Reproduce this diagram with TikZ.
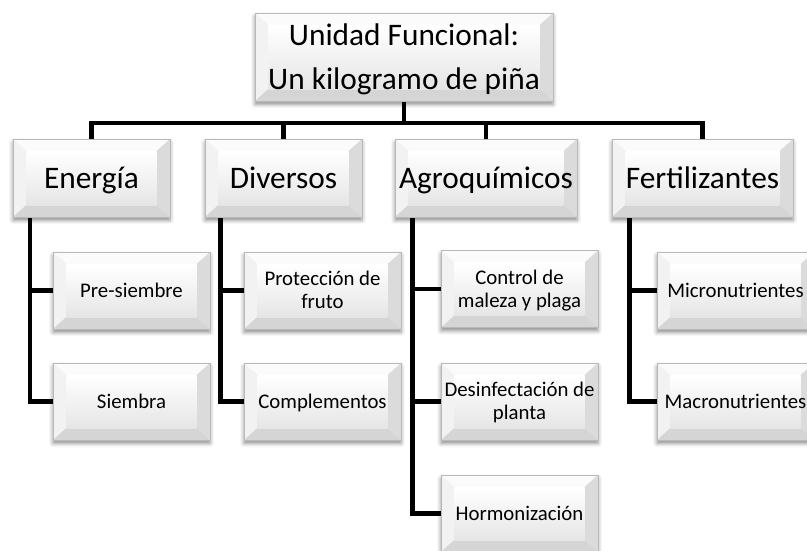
\documentclass[tikz,border=0pt]{standalone}
\usepackage{fontspec}
\setmainfont{Carlito}
\usetikzlibrary{shadows.blur,backgrounds}
\newcommand\capline[1]{\rule[-0.1em]{0pt}{0.844em}\smash{#1}}
\tikzset{
  bevel/.style={
    draw=gray!55, line width=0.5pt, fill=gray!12, align=center, inner sep=0pt,
    blur shadow={shadow xshift=0pt, shadow yshift=-2.5pt, shadow opacity=45, shadow blur radius=3pt},
    path picture={
      \coordinate (pnw) at (path picture bounding box.north west);
      \coordinate (pne) at (path picture bounding box.north east);
      \coordinate (psw) at (path picture bounding box.south west);
      \coordinate (pse) at (path picture bounding box.south east);
      \coordinate (inw) at ([xshift=10pt,yshift=-9pt]pnw);
      \coordinate (ine) at ([xshift=-10pt,yshift=-9pt]pne);
      \coordinate (isw) at ([xshift=10pt,yshift=9pt]psw);
      \coordinate (ise) at ([xshift=-10pt,yshift=9pt]pse);
      \fill[gray!3] (pnw) -- (pne) -- (ine) -- (inw) -- cycle;
      \fill[gray!10] (pnw) -- (inw) -- (isw) -- (psw) -- cycle;
      \fill[gray!28] (pne) -- (ine) -- (ise) -- (pse) -- cycle;
      \fill[gray!33] (psw) -- (isw) -- (ise) -- (pse) -- cycle;
      \shade[top color=white, bottom color=gray!20] (inw) rectangle (ise);
    }},
  topbox/.style={bevel, minimum width=223.5pt, minimum height=66pt,
    font=\fontsize{23.5}{33}\selectfont},
  lvlone/.style={bevel, minimum height=58.5pt,
    font=\fontsize{23.5}{28}\selectfont},
  leaf/.style={bevel, minimum width=117.75pt, minimum height=57.75pt,
    font=\fontsize{15.6}{17.5}\selectfont},
  conn/.style={line width=3.3pt, black}
}
\begin{document}
\begin{tikzpicture}[x=0.75pt,y=-0.75pt]
\useasboundingbox (0,0) rectangle (807,550);
\clip (0,0) rectangle (807,550);

\coordinate (bus) at (0,123);

\node[topbox] (top) at (404,57) {\capline{Unidad Funcional:}\\\capline{Un kilogramo de piña}};

\node[lvlone, minimum width=117.75pt] (e) at (91.5,178) {\capline{Energía}};
\node[lvlone, minimum width=117.75pt] (d) at (283.5,178) {\capline{Diversos}};
\node[lvlone, minimum width=136.5pt] (a) at (486,178) {\capline{Agroquímicos}};
\node[lvlone, minimum width=135.75pt] (f) at (702.5,178) {\capline{Fertilizantes}};

\node[leaf] (e1) at (131.5,290.5) {\capline{Pre-siembre}};
\node[leaf] (e2) at (131.5,401.5) {\capline{Siembra}};
\node[leaf] (d1) at (322.5,290.5) {\capline{Protección de}\\\capline{fruto}};
\node[leaf] (d2) at (322.5,401.5) {\capline{Complementos}};
\node[leaf] (a1) at (519.5,289) {\capline{Control de}\\\capline{maleza y plaga}};
\node[leaf] (a2) at (519.5,401.5) {\capline{Desinfectación de}\\\capline{planta}};
\node[leaf] (a3) at (519.5,513.5) {\capline{Hormonización}};
\node[leaf] (f1) at (735.5,290.5) {\capline{Micronutrientes}};
\node[leaf] (f2) at (735.5,401.5) {\capline{Macronutrientes}};

\begin{scope}[on background layer]
\draw[conn] (top.south) -- (top.south |- bus);
\draw[conn] (e.north) -- (e.north |- bus) -- (f.north |- bus) -- (f.north);
\draw[conn] (d.north) -- (d.north |- bus);
\draw[conn] (a.north) -- (a.north |- bus);

\draw[conn] ([xshift=13pt]e.south west) |- (e1.west);
\draw[conn] ([xshift=13pt]e.south west) |- (e2.west);
\draw[conn] ([xshift=12pt]d.south west) |- (d1.west);
\draw[conn] ([xshift=12pt]d.south west) |- (d2.west);
\draw[conn] ([xshift=13.5pt]a.south west) |- (a1.west);
\draw[conn] ([xshift=13.5pt]a.south west) |- (a2.west);
\draw[conn] ([xshift=13.5pt]a.south west) |- (a3.west);
\draw[conn] ([xshift=13.5pt]f.south west) |- (f1.west);
\draw[conn] ([xshift=13.5pt]f.south west) |- (f2.west);
\end{scope}
\end{tikzpicture}
\end{document}
